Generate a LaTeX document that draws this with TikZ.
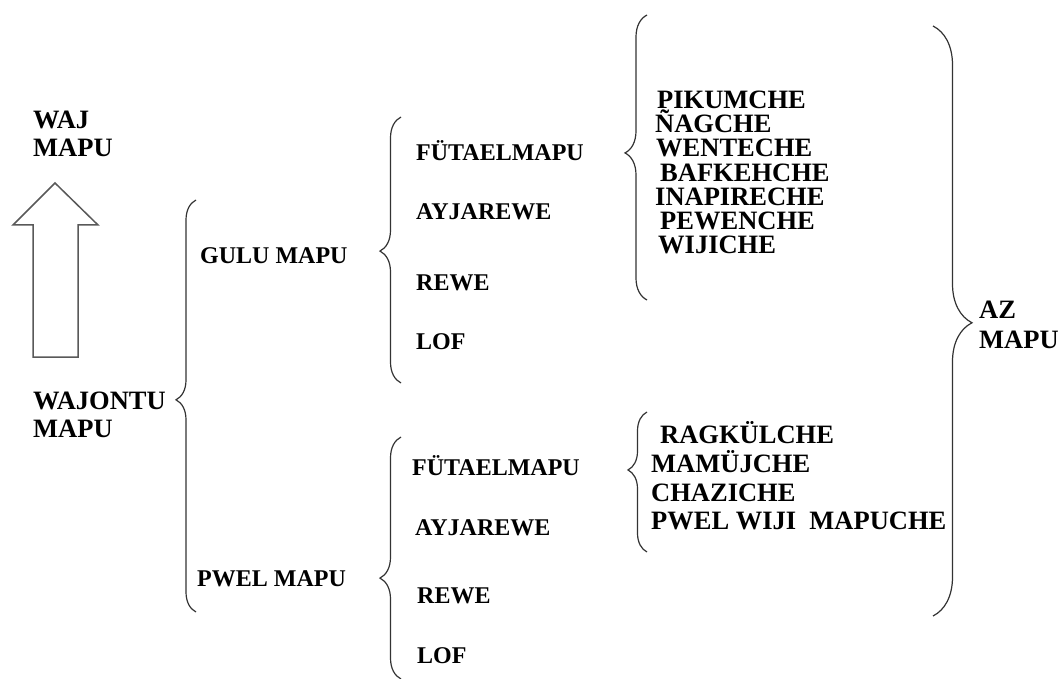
\documentclass[tikz,border=0pt]{standalone}
\usepackage{fontspec}
\setmainfont{Liberation Serif}
\usetikzlibrary{decorations.pathreplacing}
\begin{document}
\begin{tikzpicture}[x=1pt,y=-1pt,
  lbl/.style={anchor=base west, inner sep=0pt, font=\fontsize{24}{28}\selectfont\bfseries},
  lbltwo/.style={anchor=west, inner sep=0pt, align=left, font=\fontsize{26.5}{#1}\selectfont\bfseries},
  tribes/.style={anchor=west, inner sep=0pt, align=left, font=\fontsize{26.5}{#1}\selectfont\bfseries},
  curly/.style={draw=black!80, line width=1.2pt, decorate, decoration={brace, amplitude=#1}},
  blockarrow/.style={draw=black!65, line width=1.5pt, fill=white, line join=miter}
]
\useasboundingbox (0,0) rectangle (1063,679);

% hollow upward arrow
\draw[blockarrow] (55,183) -- (98,225) -- (78,225) -- (78,357) -- (33,357)
  -- (33,225) -- (13,225) -- cycle;

% left column
\node[lbltwo=28] (waj) at (33,134) {WAJ\\MAPU};
\node[lbltwo=28] (wajontu) at (33,415) {WAJONTU\\MAPU};

% second column
\node[lbl] (gulu) at (200,263) {GULU MAPU};
\node[lbl] (pwel) at (197,586) {PWEL MAPU};

% third column, upper group
\node[lbl] (fut1) at (416,161) {FÜTAELMAPU};
\node[lbl] (ayj1) at (416,220) {AYJAREWE};
\node[lbl] (rew1) at (416,290) {REWE};
\node[lbl] (lof1) at (416,349) {LOF};

% third column, lower group
\node[lbl] (fut2) at (412,475) {FÜTAELMAPU};
\node[lbl] (ayj2) at (415,535) {AYJAREWE};
\node[lbl] (rew2) at (417,603) {REWE};
\node[lbl] (lof2) at (417,663) {LOF};

% fourth column
\node[tribes=24.2] (north) at (655,172.5) {\hspace*{2pt}PIKUMCHE\\ÑAGCHE\\\hspace*{1pt}WENTECHE\\\hspace*{5pt}BAFKEHCHE\\INAPIRECHE\\\hspace*{5pt}PEWENCHE\\\hspace*{3pt}WIJICHE};
\node[tribes=28.7] (south) at (651,476) {\hspace*{9pt}RAGKÜLCHE\\MAMÜJCHE\\CHAZICHE\\PWEL WIJI\ \ MAPUCHE};

% right label
\node[lbltwo=30] (az) at (979,325) {AZ\\MAPU};

% braces
\draw[curly=20, decoration={aspect=0.515}] (196,612) -- (196,200);
\draw[curly=21, decoration={aspect=0.496}] (401,383) -- (401,117);
\draw[curly=21, decoration={aspect=0.417}] (401,679) -- (401,437);
\draw[curly=22, decoration={aspect=0.516}] (647,300) -- (647,15);
\draw[curly=19, decoration={aspect=0.586}] (647,552) -- (647,412);
\draw[curly=39, decoration={aspect=0.503}] (933,26) -- (933,616);
\end{tikzpicture}
\end{document}
